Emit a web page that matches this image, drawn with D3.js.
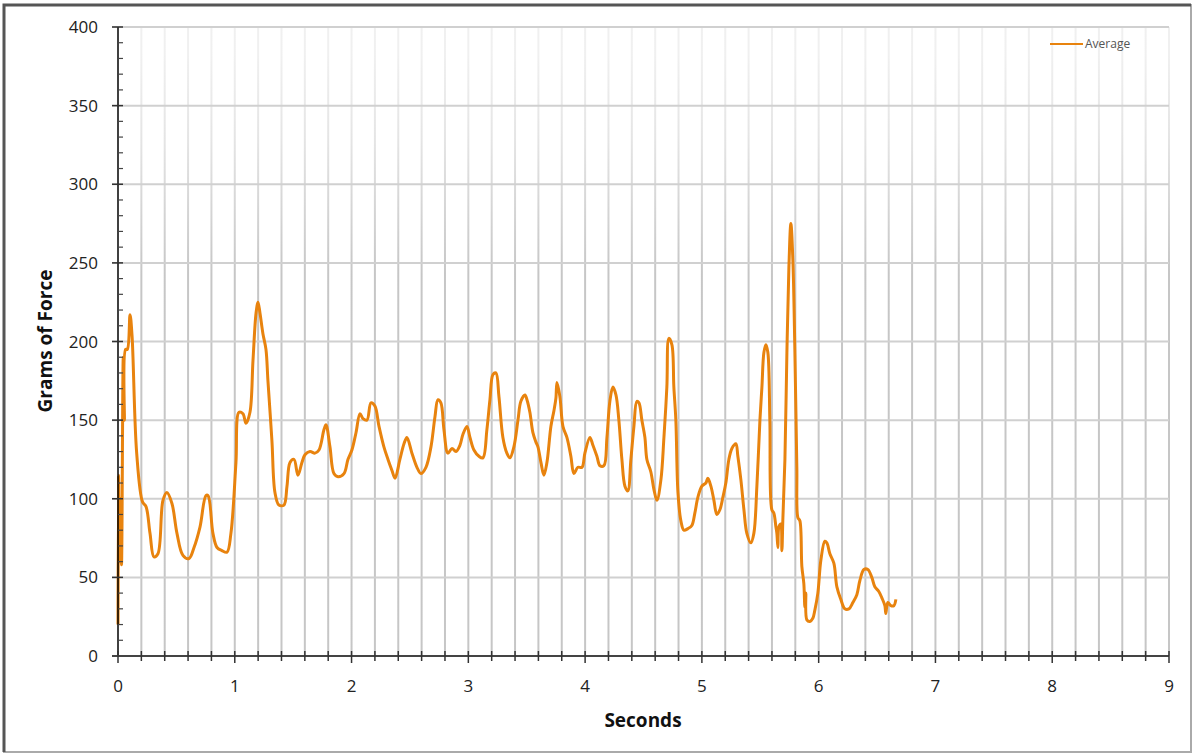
<!DOCTYPE html>
<html>
<head>
<meta charset="utf-8">
<script src="https://cdn.jsdelivr.net/npm/d3@7"></script>
<style>
  body { margin: 0; background: #fff; }
  svg { display: block; font-family: "Open Sans", "Noto Sans", sans-serif; }
</style>
</head>
<body>
<div id="chart"></div>
<script>
// readings of the "Average" trace (seconds, grams of force)
const seconds = [0.000, 0.005, 0.012, 0.020, 0.030, 0.045, 0.055, 0.065, 0.080, 0.103, 0.120, 0.160, 0.210, 0.240,
  0.274, 0.308, 0.342, 0.385, 0.419, 0.462, 0.505, 0.556, 0.608, 0.651, 0.702, 0.753, 0.771, 0.813, 0.848, 0.890,
  0.933, 0.967, 1.010, 1.036, 1.070, 1.096, 1.130, 1.156, 1.182, 1.199, 1.216, 1.241, 1.267, 1.284, 1.318, 1.344,
  1.378, 1.421, 1.447, 1.473, 1.507, 1.541, 1.575, 1.601, 1.644, 1.687, 1.721, 1.764, 1.781, 1.815, 1.849, 1.884,
  1.935, 1.969, 2.003, 2.038, 2.072, 2.098, 2.132, 2.166, 2.200, 2.235, 2.277, 2.312, 2.346, 2.372, 2.414, 2.449,
  2.474, 2.517, 2.560, 2.594, 2.637, 2.680, 2.714, 2.740, 2.765, 2.791, 2.825, 2.860, 2.894, 2.928, 2.954, 2.988,
  3.014, 3.048, 3.091, 3.125, 3.159, 3.185, 3.211, 3.236, 3.262, 3.296, 3.330, 3.356, 3.390, 3.425, 3.450, 3.485,
  3.502, 3.527, 3.553, 3.579, 3.596, 3.622, 3.647, 3.673, 3.707, 3.733, 3.750, 3.759, 3.784, 3.810, 3.844, 3.878,
  3.904, 3.938, 3.973, 3.998, 4.041, 4.067, 4.101, 4.127, 4.161, 4.187, 4.212, 4.238, 4.264, 4.289, 4.315, 4.341,
  4.366, 4.392, 4.418, 4.443, 4.461, 4.486, 4.512, 4.529, 4.563, 4.589, 4.615, 4.649, 4.675, 4.700, 4.717, 4.743,
  4.760, 4.777, 4.795, 4.820, 4.846, 4.880, 4.914, 4.940, 4.966, 5.000, 5.034, 5.051, 5.077, 5.103, 5.128, 5.154,
  5.180, 5.205, 5.231, 5.257, 5.291, 5.308, 5.334, 5.360, 5.385, 5.419, 5.445, 5.471, 5.497, 5.514, 5.531, 5.548,
  5.565, 5.582, 5.599, 5.616, 5.634, 5.642, 5.651, 5.659, 5.676, 5.685, 5.693, 5.711, 5.728, 5.745, 5.762, 5.779,
  5.796, 5.813, 5.822, 5.839, 5.856, 5.873, 5.882, 5.890, 5.899, 5.925, 5.950, 5.967, 5.993, 6.019, 6.053, 6.070,
  6.096, 6.130, 6.156, 6.190, 6.224, 6.259, 6.293, 6.327, 6.353, 6.387, 6.421, 6.455, 6.481, 6.515, 6.541, 6.567,
  6.575, 6.592, 6.618, 6.644, 6.661];

const grams = [20, 115, 60, 100, 58, 190, 150, 195, 195, 217, 204, 129, 98, 95,
  78, 63, 65, 99, 104, 97, 78, 64, 62, 69, 82, 102, 102, 78, 69, 67,
  66, 78, 123, 155, 154, 148, 155, 188, 218, 225, 218, 205, 195, 175, 137, 104,
  96, 96, 108, 123, 125, 115, 123, 128, 130, 129, 131, 144, 147, 133, 116, 114,
  116, 125, 131, 142, 154, 151, 150, 161, 159, 146, 133, 125, 118, 113, 125, 135,
  139, 129, 120, 116, 120, 133, 152, 163, 161, 144, 129, 132, 130, 134, 141, 146,
  139, 131, 127, 126, 144, 163, 179, 180, 165, 139, 129, 126, 133, 150, 162, 166,
  163, 155, 142, 136, 133, 123, 115, 123, 146, 156, 164, 174, 165, 146, 139, 127,
  116, 120, 120, 129, 139, 134, 127, 121, 121, 139, 162, 171, 166, 150, 125, 108,
  105, 125, 146, 162, 161, 150, 139, 125, 117, 106, 99, 112, 139, 171, 202, 198,
  171, 150, 104, 86, 80, 81, 83, 91, 101, 108, 110, 113, 108, 99, 90, 93,
  101, 110, 125, 132, 135, 127, 112, 93, 78, 72, 78, 108, 150, 171, 193, 198,
  193, 150, 93, 91, 82, 78, 69, 82, 84, 67, 86, 125, 193, 247, 275, 252,
  195, 120, 88, 86, 57, 46, 31, 40, 23, 22, 24, 29, 40, 61, 73, 72,
  65, 59, 44, 36, 30, 30, 34, 39, 48, 55, 55, 50, 44, 41, 37, 32,
  27, 34, 32, 32, 36];

const xTicks = [0, 1, 2, 3, 4, 5, 6, 7, 8, 9];
const yTicks = [0, 50, 100, 150, 200, 250, 300, 350, 400];
const seriesName = "Average";

const W = 1194, H = 754;
const margin = {top: 27, right: 25, bottom: 98, left: 118};
const width = W - margin.left - margin.right;
const height = H - margin.top - margin.bottom;
const orange = "#e8830e";

const svg = d3.select("#chart").append("svg")
    .attr("width", W)
    .attr("height", H);

// outer frame
svg.append("rect")
    .attr("x", 4).attr("y", 5)
    .attr("width", 1187).attr("height", 747)
    .attr("fill", "#fff")
    .attr("stroke", "#aaa")
    .attr("stroke-width", 2);
svg.append("path")
    .attr("d", "M4,752V5H1191")
    .attr("fill", "none")
    .attr("stroke", "#555")
    .attr("stroke-width", 3);

// vertical grid fades out toward the top
const grad = svg.append("defs").append("linearGradient")
    .attr("id", "vfade")
    .attr("gradientUnits", "userSpaceOnUse")
    .attr("x1", 0).attr("y1", margin.top)
    .attr("x2", 0).attr("y2", margin.top + 220);
grad.append("stop").attr("offset", "0%").attr("stop-color", "#f0f0f0");
grad.append("stop").attr("offset", "40%").attr("stop-color", "#e4e4e4");
grad.append("stop").attr("offset", "100%").attr("stop-color", "#c6c6c6");

const g = svg.append("g")
    .attr("transform", `translate(${margin.left},${margin.top})`);

const x = d3.scaleLinear().domain([0, 9]).range([0, width]);
const y = d3.scaleLinear().domain([0, 400]).range([height, 0]);

const minorX = d3.range(0, 45).map(i => i * 0.2).concat([9]);
const minorY = d3.range(0, 41).map(i => i * 10);

// vertical grid lines every 0.2 s
g.append("g")
  .selectAll("line")
  .data(minorX.filter(d => d > 0))
  .join("line")
    .attr("x1", d => x(d)).attr("x2", d => x(d))
    .attr("y1", 0).attr("y2", height)
    .attr("stroke", "url(#vfade)")
    .attr("stroke-width", 2);

// horizontal grid lines
g.append("g")
  .selectAll("line")
  .data(yTicks.filter(d => d > 0))
  .join("line")
    .attr("x1", -6).attr("x2", width)
    .attr("y1", d => y(d)).attr("y2", d => y(d))
    .attr("stroke", "#d0d0d0")
    .attr("stroke-width", 2);

// the trace
const line = d3.line()
    .x((d, i) => x(seconds[i]))
    .y(d => y(d))
    .curve(d3.curveCatmullRom.alpha(0.5));

g.append("path")
    .datum(grams)
    .attr("fill", "none")
    .attr("stroke", orange)
    .attr("stroke-width", 3)
    .attr("stroke-linejoin", "round")
    .attr("d", line);

// y axis
const yAxis = g.append("g").attr("class", "y-axis");
yAxis.append("line")
    .attr("x1", 0).attr("x2", 0)
    .attr("y1", 0).attr("y2", height)
    .attr("stroke", "#000").attr("stroke-width", 1.5);
yAxis.selectAll(".minor")
  .data(minorY.filter(d => d % 50 !== 0))
  .join("line")
    .attr("class", "minor")
    .attr("x1", 0).attr("x2", 5)
    .attr("y1", d => y(d)).attr("y2", d => y(d))
    .attr("stroke", "#444").attr("stroke-width", 1.2);
yAxis.selectAll(".major")
  .data(yTicks)
  .join("line")
    .attr("class", "major")
    .attr("x1", -6).attr("x2", 5)
    .attr("y1", d => y(d)).attr("y2", d => y(d))
    .attr("stroke", "#333").attr("stroke-width", 1.5);
yAxis.selectAll("text")
  .data(yTicks)
  .join("text")
    .attr("x", -20)
    .attr("y", d => y(d))
    .attr("dy", "0.36em")
    .attr("text-anchor", "end")
    .attr("font-size", 17)
    .attr("fill", "#222")
    .text(d => d);

// x axis
const xAxis = g.append("g").attr("class", "x-axis")
    .attr("transform", `translate(0,${height})`);
xAxis.append("line")
    .attr("x1", -6).attr("x2", width)
    .attr("stroke", "#444").attr("stroke-width", 2);
xAxis.selectAll(".tick")
  .data(minorX)
  .join("line")
    .attr("class", "tick")
    .attr("x1", d => x(d)).attr("x2", d => x(d))
    .attr("y1", -5)
    .attr("y2", d => Math.abs(d - Math.round(d)) < 1e-6 ? 7 : 5)
    .attr("stroke", "#333").attr("stroke-width", 1.5);
xAxis.selectAll("text")
  .data(xTicks)
  .join("text")
    .attr("x", d => x(d))
    .attr("y", 36)
    .attr("text-anchor", "middle")
    .attr("font-size", 17)
    .attr("fill", "#222")
    .text(d => d);

// axis titles
svg.append("text")
    .attr("transform", "translate(52,341) rotate(-90)")
    .attr("text-anchor", "middle")
    .attr("font-size", 19)
    .attr("font-weight", "bold")
    .attr("fill", "#111")
    .text("Grams of Force");

svg.append("text")
    .attr("x", 643).attr("y", 727)
    .attr("text-anchor", "middle")
    .attr("font-size", 19)
    .attr("font-weight", "bold")
    .attr("fill", "#111")
    .text("Seconds");

// legend
const legend = svg.append("g").attr("transform", "translate(1050,44)");
legend.append("line")
    .attr("x1", 0).attr("x2", 33)
    .attr("stroke", orange).attr("stroke-width", 2.2);
legend.append("text")
    .attr("x", 35).attr("y", 4)
    .attr("font-size", 12)
    .attr("fill", "#555")
    .text(seriesName);
</script>
</body>
</html>
